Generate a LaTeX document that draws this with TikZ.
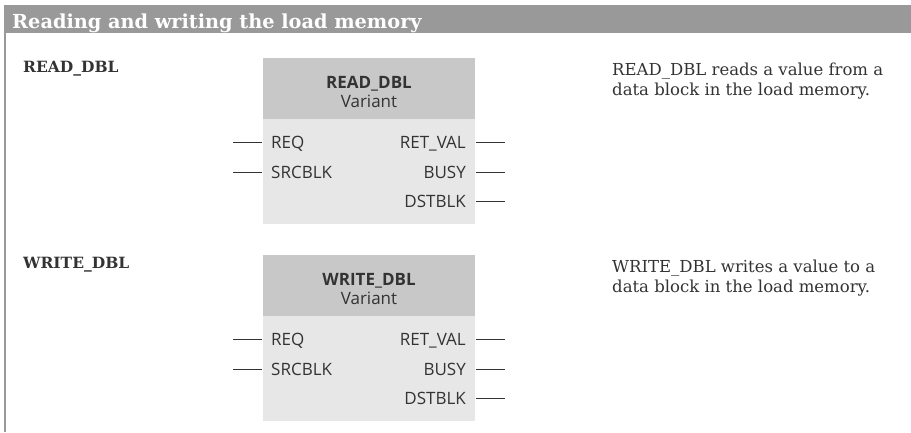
\documentclass[tikz,border=0pt]{standalone}
\usepackage{fontspec}
\setmainfont{DejaVu Serif}
\newfontfamily\blkfont{Open Sans}
\definecolor{bargray}{HTML}{999999}
\definecolor{hdgray}{HTML}{C8C8C8}
\definecolor{bodygray}{HTML}{E6E7E6}
\definecolor{txt}{HTML}{333333}
\tikzset{
  px/.style={x=1pt,y=-1pt},
  hdr/.style={fill=hdgray,draw=none},
  bdy/.style={fill=bodygray,draw=none},
  pin/.style={draw=txt,line width=1pt},
  pinl/.style={font=\blkfont\fontsize{17}{20}\selectfont,text=txt,inner sep=0pt,anchor=base west},
  pinr/.style={font=\blkfont\fontsize{17}{20}\selectfont,text=txt,inner sep=0pt,anchor=base east},
  title/.style={font=\blkfont\fontsize{17}{20}\selectfont,text=txt,inner sep=0pt,anchor=base},
  lbl/.style={font=\bfseries\fontsize{15.5}{18}\selectfont,text=txt,inner sep=0pt,anchor=base west},
  desc/.style={font=\fontsize{16.5}{20}\selectfont,text=txt,inner sep=0pt,anchor=base west}
}
\begin{document}
\begin{tikzpicture}[px]
\useasboundingbox (0,0) rectangle (911,432);
\fill[white] (0,0) rectangle (911,432);
% header bar
\fill[bargray] (4,5) rectangle (911,33);
\node[font=\bfseries\fontsize{19.3}{22}\selectfont,text=white,anchor=base west,inner sep=0pt] (head) at (12,28) {Reading and writing the load memory};
\draw[bargray,line width=1.5pt] (5,33) -- (5,432);

% ---- READ_DBL
\node[lbl] (l1) at (23,72) {READ\_DBL};
\fill[hdr] (263,58) rectangle (475,119);
\fill[bdy] (263,119) rectangle (475,224);
\node[title] (t1) at (369,88) {\bfseries READ\_DBL};
\node[title] (v1) at (369,107) {Variant};
\node[pinl] (req1) at (271,148) {REQ};
\node[pinl] (src1) at (271,178) {SRCBLK};
\node[pinr] (ret1) at (466,148) {RET\_VAL};
\node[pinr] (busy1) at (466,178) {BUSY};
\node[pinr] (dst1) at (466,207) {DSTBLK};
\coordinate (a1) at (233,142); \coordinate (b1) at (233,172);
\coordinate (c1) at (505,142); \coordinate (d1) at (505,172); \coordinate (e1) at (505,201);
\draw[pin] (a1) -- (262,142);
\draw[pin] (b1) -- (262,172);
\draw[pin] (476,142) -- (c1);
\draw[pin] (476,172) -- (d1);
\draw[pin] (476,201) -- (e1);
\node[desc] (d1a) at (612,75) {READ\_DBL reads a value from a};
\node[desc] (d1b) at (612,95) {data block in the load memory.};

% ---- WRITE_DBL
\node[lbl] (l2) at (23,268) {WRITE\_DBL};
\fill[hdr] (263,255) rectangle (475,316);
\fill[bdy] (263,316) rectangle (475,421);
\node[title] (t2) at (369,285) {\bfseries WRITE\_DBL};
\node[title] (v2) at (369,304) {Variant};
\node[pinl] (req2) at (271,345) {REQ};
\node[pinl] (src2) at (271,375) {SRCBLK};
\node[pinr] (ret2) at (466,345) {RET\_VAL};
\node[pinr] (busy2) at (466,375) {BUSY};
\node[pinr] (dst2) at (466,404) {DSTBLK};
\coordinate (a2) at (233,339); \coordinate (b2) at (233,369);
\coordinate (c2) at (505,339); \coordinate (d2) at (505,369); \coordinate (e2) at (505,398);
\draw[pin] (a2) -- (262,339);
\draw[pin] (b2) -- (262,369);
\draw[pin] (476,339) -- (c2);
\draw[pin] (476,369) -- (d2);
\draw[pin] (476,398) -- (e2);
\node[desc] (d2a) at (612,272) {WRITE\_DBL writes a value to a};
\node[desc] (d2b) at (612,292) {data block in the load memory.};
\end{tikzpicture}
\end{document}
